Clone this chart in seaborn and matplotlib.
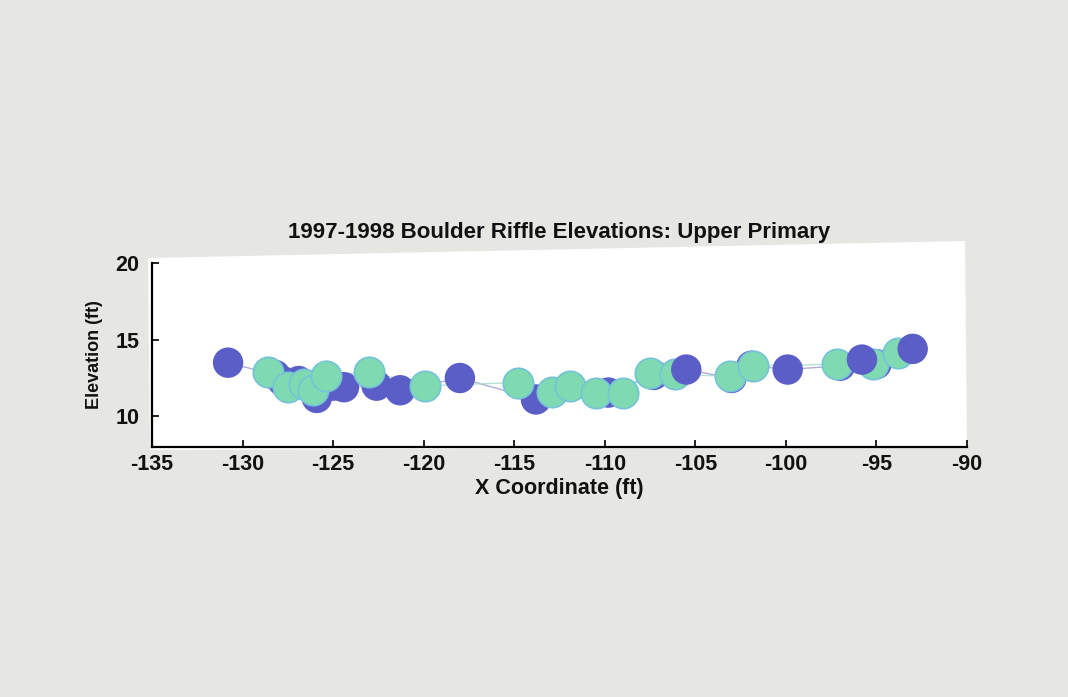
import numpy as np
import pandas as pd
import matplotlib
matplotlib.use("Agg")
import matplotlib.pyplot as plt
import seaborn as sns
from matplotlib.patches import Polygon

# ---- data ----
x_1997 = [-130.8, -128.2, -127.8, -126.9, -125.9, -125.0, -124.4, -122.6, -121.3,
          -118.0, -113.8, -109.8, -107.3, -105.5, -103.0, -101.9, -99.9, -97.0,
          -95.8, -95.0, -93.0]
y_1997 = [13.5, 12.7, 12.3, 12.3, 11.2, 12.0, 11.9, 12.0, 11.7,
          12.5, 11.1, 11.55, 12.7, 13.05, 12.5, 13.3, 13.05, 13.3,
          13.7, 13.4, 14.4]
x_1998 = [-128.6, -127.5, -126.6, -126.1, -125.4, -123.0, -119.9, -114.8, -112.9,
          -111.9, -110.5, -109.0, -107.5, -106.1, -103.1, -101.8, -97.2, -95.2, -93.8]
y_1998 = [12.9, 11.9, 12.1, 11.75, 12.6, 12.9, 12.0, 12.2, 11.6,
          11.95, 11.55, 11.55, 12.85, 12.75, 12.6, 13.3, 13.4, 13.4, 14.1]
x_ticks = [-135, -130, -125, -120, -115, -110, -105, -100, -95, -90]
y_ticks = [10, 15, 20]
title = "1997-1998 Boulder Riffle Elevations: Upper Primary"
xlabel = "X Coordinate (ft)"
ylabel = "Elevation (ft)"

c97 = "#5a5ec6"
c98 = "#7fdab2"

df97 = pd.DataFrame({"x": x_1997, "y": y_1997, "survey": "1997"})
df98 = pd.DataFrame({"x": x_1998, "y": y_1998, "survey": "1998"})
# 1997 markers that the 3-D view draws in front of the 1998 ones
front = df97["x"].isin([-105.5, -95.8, -93.0])

sns.set_style("white")
plt.rcParams['font.family'] = ['Liberation Sans', 'DejaVu Sans']
plt.rcParams['text.color'] = '#111111'
plt.rcParams['axes.labelcolor'] = '#111111'

bg = "#e6e6e3"
fig = plt.figure(figsize=(10.68, 6.97), dpi=100, facecolor=bg)
W, H = 1068, 697
# white plotting region (slightly skewed, as in the scan)
poly = Polygon([(148 / W, 1 - 258 / H), (965 / W, 1 - 241 / H),
                (967 / W, 1 - 447 / H), (150 / W, 1 - 450 / H)],
               closed=True, transform=fig.transFigure, facecolor="white",
               edgecolor="none", zorder=-5)
fig.patches.append(poly)

ax = fig.add_axes([152 / W, 1 - 447 / H, (967 - 152) / W, (447 - 263) / H])
ax.set_facecolor("none")
ax.patch.set_alpha(0)

sns.lineplot(data=df97, x="x", y="y", sort=False, ax=ax, color="#9a9ad0",
             lw=1.0, alpha=0.8, legend=False, zorder=1)
sns.lineplot(data=df98, x="x", y="y", sort=False, ax=ax, color="#a8d8d0",
             lw=1.0, alpha=0.8, legend=False, zorder=1)
sns.scatterplot(data=df97[~front], x="x", y="y", ax=ax, color=c97, s=480,
                edgecolor="none", legend=False, zorder=2)
sns.scatterplot(data=df98, x="x", y="y", ax=ax, color=c98, s=480,
                edgecolor="#74c3d8", linewidth=1.2, legend=False, zorder=3)
sns.scatterplot(data=df97[front], x="x", y="y", ax=ax, color=c97, s=480,
                edgecolor="none", legend=False, zorder=4)

ax.set_xlim(-135, -90)
ax.set_ylim(8, 20)
ax.set_xticks(x_ticks)
ax.set_yticks(y_ticks)
ax.set_xticklabels([str(t) for t in x_ticks])
ax.set_yticklabels([str(t) for t in y_ticks])
for s in ["top", "right"]:
    ax.spines[s].set_visible(False)
for s in ["left", "bottom"]:
    ax.spines[s].set_color("black")
    ax.spines[s].set_linewidth(1.6)
ax.tick_params(bottom=True, left=True, direction="in", length=5, width=1.3,
               labelsize=15.5, colors="#111111")
ax.tick_params(axis="x", pad=5)
ax.tick_params(axis="y", pad=9)
for lab in ax.get_xticklabels() + ax.get_yticklabels():
    lab.set_fontweight("bold")
ax.set_xlabel(xlabel, fontsize=15.5, fontweight="bold", labelpad=2)
ax.set_ylabel(ylabel, fontsize=13, fontweight="bold", labelpad=9)
ax.set_title(title, fontsize=16, fontweight="bold", pad=18)

fig.savefig("out.png", dpi=100, facecolor=bg)
